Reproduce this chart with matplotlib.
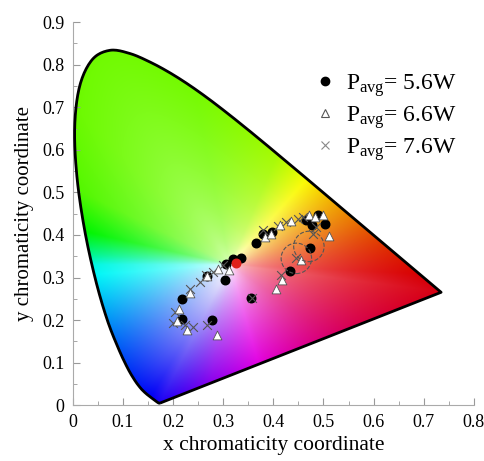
#CIE 1931 chromaticity diagram with measured points
import numpy as np
import matplotlib
matplotlib.use("Agg")
import matplotlib.pyplot as plt
from matplotlib.path import Path
from matplotlib.patches import PathPatch
from matplotlib.lines import Line2D
from matplotlib.colors import hsv_to_rgb

plt.rcParams['font.family'] = ['Liberation Serif', 'DejaVu Serif']
plt.rcParams['mathtext.fontset'] = 'custom'
plt.rcParams['mathtext.rm'] = 'Liberation Serif'
plt.rcParams['mathtext.it'] = 'Liberation Serif'

#Spectral locus (CIE 1931 2 deg), 380-700 nm
locus_x = [0.1741, 0.1740, 0.1738, 0.1736, 0.1733, 0.1730, 0.1726, 0.1721, 0.1714, 0.1703,
           0.1689, 0.1669, 0.1644, 0.1611, 0.1566, 0.1510, 0.1440, 0.1355, 0.1241, 0.1096,
           0.0913, 0.0687, 0.0454, 0.0235, 0.0082, 0.0039, 0.0139, 0.0389, 0.0743, 0.1142,
           0.1547, 0.1929, 0.2296, 0.2658, 0.3016, 0.3373, 0.3731, 0.4087, 0.4441, 0.4788,
           0.5125, 0.5448, 0.5752, 0.6029, 0.6270, 0.6482, 0.6658, 0.6801, 0.6915, 0.7006,
           0.7079, 0.7140, 0.7190, 0.7230, 0.7260, 0.7283, 0.7300, 0.7311, 0.7320, 0.7334, 0.7347]
locus_y = [0.0050, 0.0050, 0.0049, 0.0049, 0.0048, 0.0048, 0.0048, 0.0048, 0.0051, 0.0058,
           0.0069, 0.0086, 0.0109, 0.0138, 0.0177, 0.0227, 0.0297, 0.0399, 0.0578, 0.0868,
           0.1327, 0.2007, 0.2950, 0.4127, 0.5384, 0.6548, 0.7502, 0.8120, 0.8338, 0.8262,
           0.8059, 0.7816, 0.7543, 0.7243, 0.6923, 0.6589, 0.6245, 0.5896, 0.5547, 0.5202,
           0.4866, 0.4544, 0.4242, 0.3965, 0.3725, 0.3514, 0.3340, 0.3197, 0.3083, 0.2993,
           0.2920, 0.2859, 0.2809, 0.2770, 0.2740, 0.2717, 0.2700, 0.2689, 0.2680, 0.2666, 0.2653]

#Measured chromaticity points
p56_x = [0.218, 0.217, 0.277, 0.303, 0.268, 0.305, 0.320, 0.335, 0.356, 0.365, 0.380, 0.398,
         0.433, 0.473, 0.466, 0.477, 0.503, 0.489]
p56_y = [0.249, 0.202, 0.200, 0.295, 0.303, 0.331, 0.343, 0.345, 0.252, 0.381, 0.403, 0.407,
         0.316, 0.370, 0.436, 0.423, 0.425, 0.446]
p66_x = [0.212, 0.207, 0.227, 0.287, 0.233, 0.267, 0.290, 0.311, 0.383, 0.396, 0.414, 0.436,
         0.471, 0.483, 0.499, 0.511, 0.456, 0.418, 0.405]
p66_y = [0.225, 0.198, 0.176, 0.165, 0.264, 0.303, 0.319, 0.317, 0.395, 0.403, 0.423, 0.432,
         0.446, 0.442, 0.446, 0.397, 0.341, 0.294, 0.272]
p76_x = [0.200, 0.203, 0.223, 0.239, 0.268, 0.233, 0.253, 0.265, 0.280, 0.300, 0.358, 0.416,
         0.446, 0.486, 0.479, 0.380, 0.410, 0.426, 0.449, 0.459]
p76_y = [0.193, 0.219, 0.188, 0.184, 0.188, 0.272, 0.289, 0.305, 0.313, 0.329, 0.251, 0.305,
         0.345, 0.419, 0.403, 0.411, 0.421, 0.431, 0.438, 0.442]
red_x = [0.325]
red_y = [0.335]
ring_x = [0.446, 0.471]
ring_y = [0.345, 0.373]


def catmull_rom(px, py, n=12):
    p = np.column_stack([px, py])
    p = np.vstack([p[0], p, p[-1]])
    out = []
    t = np.linspace(0, 1, n, endpoint=False)[:, None]
    for i in range(1, len(p) - 2):
        p0, p1, p2, p3 = p[i - 1], p[i], p[i + 1], p[i + 2]
        seg = 0.5 * ((2 * p1) + (-p0 + p2) * t + (2 * p0 - 5 * p1 + 4 * p2 - p3) * t ** 2
                     + (-p0 + 3 * p1 - 3 * p2 + p3) * t ** 3)
        out.append(seg)
    out.append(p[-2][None, :])
    return np.vstack(out)


curve = catmull_rom(locus_x, locus_y)
purple = np.column_stack([np.linspace(curve[-1, 0], curve[0, 0], 200),
                          np.linspace(curve[-1, 1], curve[0, 1], 200)])
boundary = np.vstack([curve, purple])

fig = plt.figure(figsize=(4.85, 4.61), dpi=100)
ax = fig.add_axes([0.150, 0.121, 0.827, 0.831])

#Colour fill of the gamut: hue by angle around the white point
wx, wy = 0.3127, 0.329
b_ang = np.degrees(np.arctan2(boundary[:, 1] - wy, boundary[:, 0] - wx))
b_d = np.hypot(boundary[:, 0] - wx, boundary[:, 1] - wy)
order = np.argsort(b_ang)
b_ang, b_d = b_ang[order], b_d[order]
b_ang = np.concatenate([b_ang - 360, b_ang, b_ang + 360])
b_d = np.concatenate([b_d, b_d, b_d])

gx, gy = np.meshgrid(np.linspace(0, 0.8, 500), np.linspace(0, 0.9, 560))
ang = np.degrees(np.arctan2(gy - wy, gx - wx))
dist = np.hypot(gx - wx, gy - wy)
ratio = np.clip(dist / np.interp(ang, b_ang, b_d), 0, 1)

a_pts = [-180, -117, -98, -72, -40, -5, 21, 51, 70, 100, 130, 150, 165, 175, 180]
h_pts = [175, 240, 275, 305, 330, 358, 388, 418, 440, 452, 454, 460, 480, 515, 535]
p_pts = [0.65, 1.1, 0.85, 0.7, 0.5, 0.42, 0.45, 0.6, 0.45, 0.32, 0.3, 0.35, 0.45, 0.55, 0.65]
v_pts = [0.97, 0.96, 0.93, 0.88, 0.85, 0.84, 0.91, 0.98, 0.98, 0.98, 0.98, 0.97, 0.96, 0.96, 0.97]
hue = (np.interp(ang, a_pts, h_pts) % 360) / 360
sat = ratio ** np.interp(ang, a_pts, p_pts)
val = np.interp(ang, a_pts, v_pts)
val = 1 - (1 - val) * ratio ** 0.7
rgb = hsv_to_rgb(np.dstack([hue, sat, val]))

patch = PathPatch(Path(boundary), facecolor='none', edgecolor='black', lw=2, zorder=3,
                  joinstyle='round')
ax.add_patch(patch)
im = ax.imshow(rgb, extent=[0, 0.8, 0, 0.9], origin='lower', aspect='auto', zorder=1,
               interpolation='bilinear')
im.set_clip_path(patch)

ax.scatter(p56_x, p56_y, s=38, c='black', marker='o', zorder=4)
ax.scatter(red_x, red_y, s=38, c='#e0201b', marker='o', zorder=4)
ax.scatter(p76_x, p76_y, s=40, c='#555555', marker='x', linewidths=0.8, zorder=5)
ax.scatter(p66_x, p66_y, s=40, facecolors='white', edgecolors='#555555', marker='^',
           linewidths=0.6, zorder=6)
ax.scatter(ring_x, ring_y, s=480, facecolors='none', edgecolors='#555555', linewidths=0.8,
           linestyle='--', zorder=7)

ax.set_xlim(0, 0.8)
ax.set_ylim(0, 0.9)
ax.set_xticks(np.arange(0, 0.81, 0.1))
ax.set_xticklabels(['0', '0.1', '0.2', '0.3', '0.4', '0.5', '0.6', '0.7', '0.8'])
ax.set_yticks(np.arange(0, 0.91, 0.1))
ax.set_yticklabels(['0', '0.1', '0.2', '0.3', '0.4', '0.5', '0.6', '0.7', '0.8', '0.9'])
ax.set_xticks(np.arange(0.05, 0.8, 0.1), minor=True)
ax.set_yticks(np.arange(0.05, 0.9, 0.1), minor=True)
ax.tick_params(which='both', direction='in', color='#999999', labelsize=13, pad=6)
ax.tick_params(which='major', length=5)
ax.tick_params(which='minor', length=3)
for s in ['top', 'right']:
    ax.spines[s].set_visible(False)
for s in ['left', 'bottom']:
    ax.spines[s].set_color('#aaaaaa')
    ax.spines[s].set_linewidth(0.8)
ax.set_xlabel('x chromaticity coordinate', fontsize=15.5, labelpad=4)
ax.set_ylabel('y chromaticity coordinate', fontsize=15, labelpad=6)

handles = [
    Line2D([], [], ls='none', marker='o', color='black', markersize=6),
    Line2D([], [], ls='none', marker='^', markerfacecolor='white', markeredgecolor='#555555',
           markersize=6, markeredgewidth=0.8),
    Line2D([], [], ls='none', marker='x', color='#888888', markersize=6, markeredgewidth=0.8),
]
labels = [r'P$_{\mathrm{avg}}$= 5.6W', r'P$_{\mathrm{avg}}$= 6.6W', r'P$_{\mathrm{avg}}$= 7.6W']
ax.legend(handles, labels, loc='upper right', bbox_to_anchor=(1.01, 0.925), frameon=False,
          fontsize=17, handletextpad=0.2, labelspacing=0.22, handlelength=1.4)

plt.savefig('out.png', dpi=100)
